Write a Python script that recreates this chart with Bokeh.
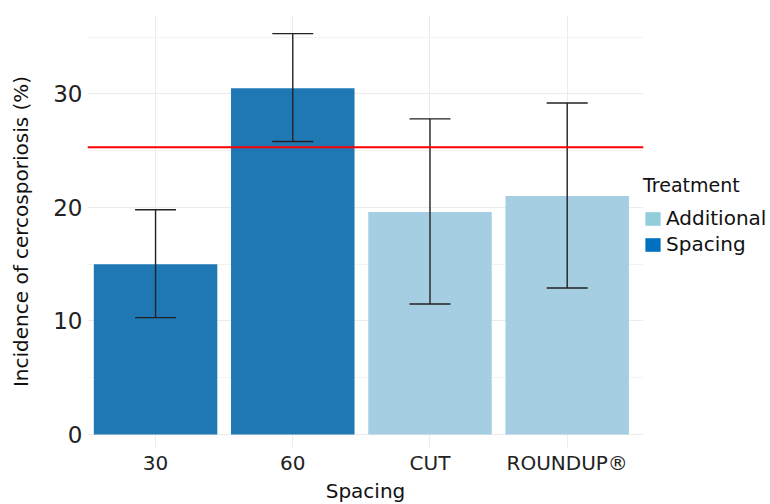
from bokeh.plotting import figure
from bokeh.models import (ColumnDataSource, Range1d, FixedTicker, Whisker, TeeHead,
                          Span, Legend, LegendItem)
from bokeh.embed import file_html
from bokeh.resources import INLINE

categories = ["30", "60", "CUT", "ROUNDUP®"]
treatment = ["Spacing", "Spacing", "Additional", "Additional"]
incidence = [15.0, 30.5, 19.6, 21.0]
err_low = [10.3, 25.8, 11.5, 12.9]
err_high = [19.8, 35.3, 27.8, 29.2]
threshold = 25.3
y_ticks = [0, 10, 20, 30]
y_minor = [5, 15, 25, 35]
legend_order = ["Additional", "Spacing"]

bar_colors = {"Spacing": "#1f77b4", "Additional": "#a6cee3"}
legend_colors = {"Additional": "#92cddc", "Spacing": "#0070c0"}

FONT = "DejaVu Sans"
xs = [i + 1 for i in range(len(categories))]
src = ColumnDataSource(dict(x=xs, top=incidence, lo=err_low, hi=err_high,
                            color=[bar_colors[t] for t in treatment], cat=categories))

p = figure(frame_width=556, frame_height=432, output_backend="svg", toolbar_location=None,
           x_range=Range1d(0.504, 4.556), y_range=Range1d(-1.14, 36.9),
           min_border_left=87, min_border_right=0, min_border_top=15, min_border_bottom=0)
p.outline_line_color = None
p.background_fill_color = "white"

p.vbar(x="x", top="top", bottom=0, width=0.9, fill_color="color", line_color=None, source=src)

w = Whisker(base="x", lower="lo", upper="hi", source=src, dimension="height",
            line_color="#222222", line_width=1.4, level="overlay",
            upper_head=TeeHead(size=41, line_color="#222222", line_width=1.4),
            lower_head=TeeHead(size=41, line_color="#222222", line_width=1.4))
p.add_layout(w)

p.add_layout(Span(location=threshold, dimension="width", line_color="#ff0000",
                  line_width=2, level="overlay"))

# legend renderers (no visible data, only used for the legend swatches)
items = []
for name in legend_order:
    r = p.vbar(x=[float("nan")], top=[float("nan")], width=0.9,
               fill_color=legend_colors[name], line_color=None)
    items.append(LegendItem(label=name, renderers=[r]))
legend = Legend(items=items, location=(0, 191), title="Treatment",
                title_text_font=FONT, title_text_font_size="19px", title_text_color="#111111",
                title_text_font_style="normal", title_standoff=10,
                label_text_font=FONT, label_text_font_size="20px", label_text_color="#111111",
                glyph_width=19, glyph_height=17, label_standoff=4, spacing=2,
                label_height=20, padding=0, margin=0,
                border_line_color=None, background_fill_alpha=0)
p.add_layout(legend, "right")

# axes
p.xaxis.ticker = FixedTicker(ticks=xs)
p.xaxis.major_label_overrides = {x: c for x, c in zip(xs, categories)}
p.yaxis.ticker = FixedTicker(ticks=y_ticks, minor_ticks=y_minor)
for ax in (p.xaxis, p.yaxis):
    ax.axis_line_color = None
    ax.major_tick_line_color = None
    ax.minor_tick_line_color = None
    ax.major_tick_out = 0
    ax.major_tick_in = 0
    ax.minor_tick_out = 0
    ax.minor_tick_in = 0
    ax.major_label_text_font = FONT
    ax.major_label_text_color = "#222222"
    ax.axis_label_text_font = FONT
    ax.axis_label_text_font_style = "normal"
    ax.axis_label_text_color = "#111111"
    ax.axis_label_text_font_size = "20px"
p.xaxis.major_label_text_font_size = "20px"
p.yaxis.major_label_text_font_size = "23px"
p.xaxis.major_label_standoff = 3
p.yaxis.major_label_standoff = 5
p.xaxis.axis_label = "Spacing"
p.yaxis.axis_label = "Incidence of cercosporiosis (%)"
p.xaxis.axis_label_standoff = 1
p.yaxis.axis_label_standoff = 17

p.xgrid.grid_line_color = "#ebebeb"
p.ygrid.grid_line_color = "#ebebeb"
p.ygrid.minor_grid_line_color = "#f3f3f3"

open("out.html", "w").write(file_html(p, INLINE))
